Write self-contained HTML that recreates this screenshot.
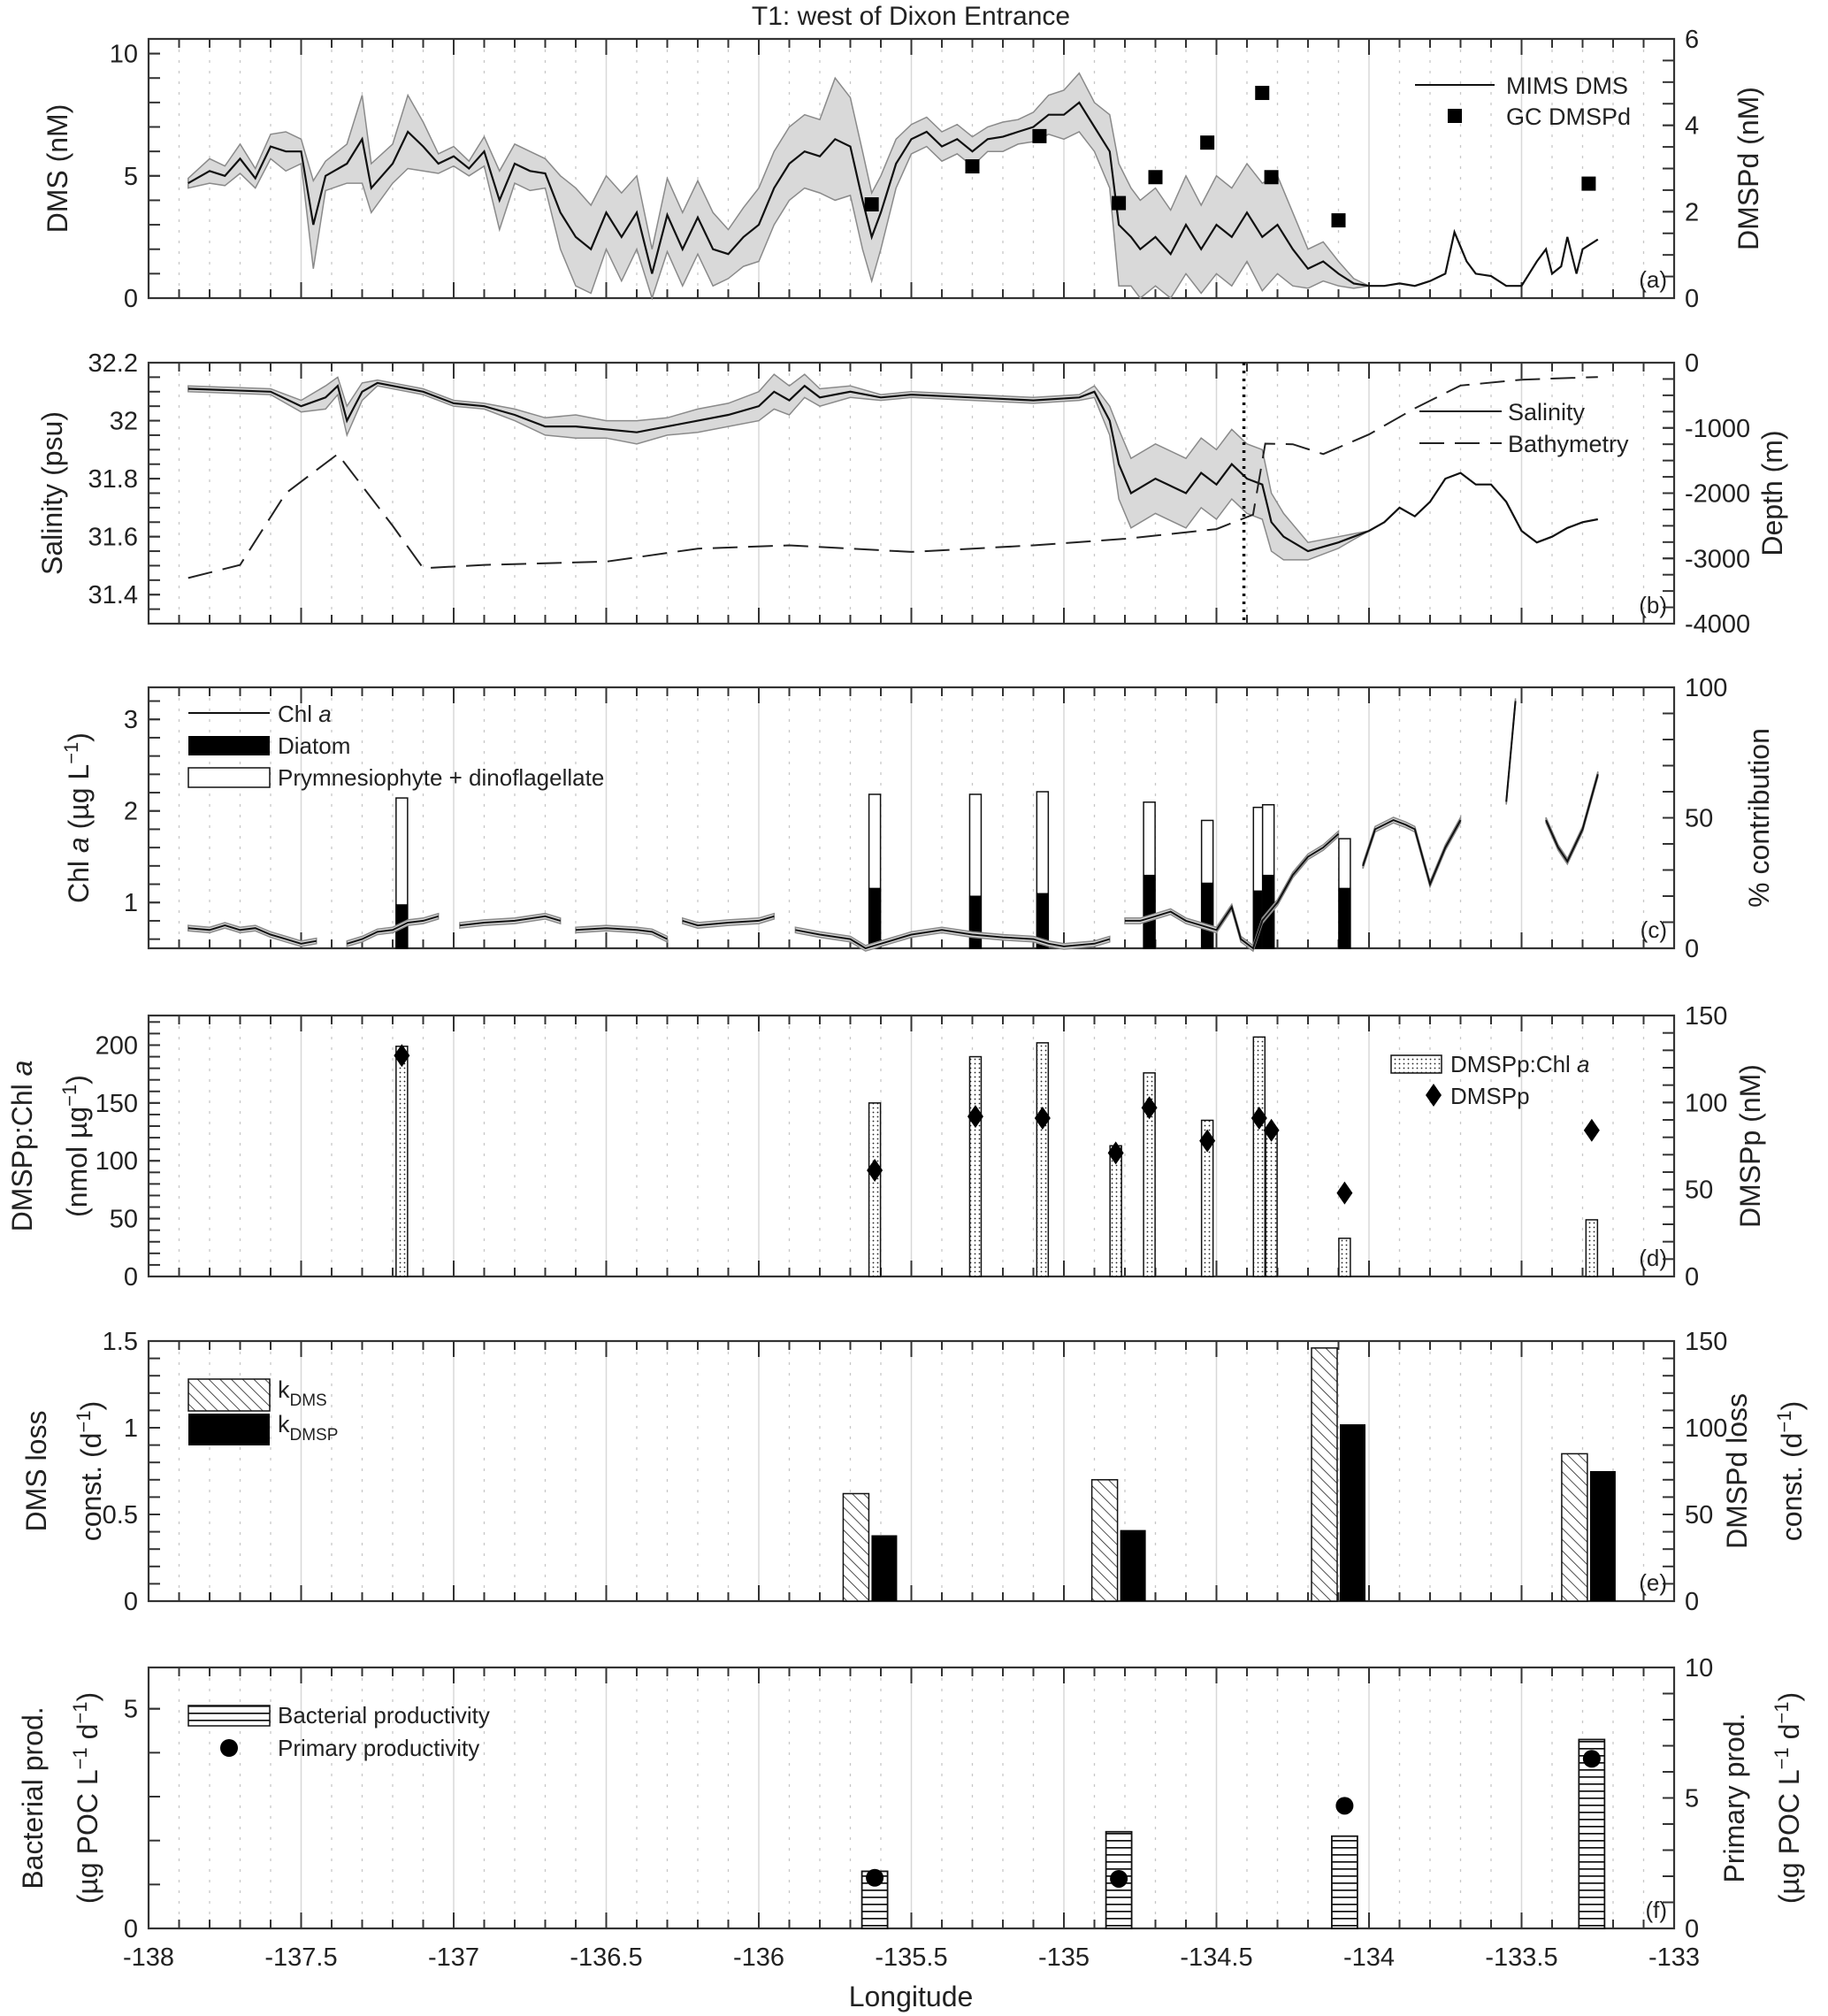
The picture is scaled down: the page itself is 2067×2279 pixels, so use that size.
<!DOCTYPE html>
<html><head><meta charset="utf-8"><title>T1: west of Dixon Entrance</title>
<style>
html,body{margin:0;padding:0;background:#fff;}
svg{display:block;font-family:"Liberation Sans",Arial,sans-serif;}
</style></head>
<body>
<svg id="fig" xmlns="http://www.w3.org/2000/svg" width="2067" height="2279" viewBox="0 0 2067 2279">
<defs>
<pattern id="dots" width="5" height="5" patternUnits="userSpaceOnUse"><rect width="5" height="5" fill="#fff"/><circle cx="2.5" cy="2.5" r="0.9" fill="#222"/></pattern>
<pattern id="diag" width="9" height="9" patternUnits="userSpaceOnUse" patternTransform="rotate(-45)"><rect width="9" height="9" fill="#fff"/><line x1="0" y1="0" x2="0" y2="9" stroke="#222" stroke-width="1.6"/></pattern>
<pattern id="horiz" width="10" height="8" patternUnits="userSpaceOnUse"><rect width="10" height="8" fill="#fff"/><line x1="0" y1="0.8" x2="10" y2="0.8" stroke="#111" stroke-width="1.8"/></pattern>
</defs>
<text x="1030" y="28" font-size="30" text-anchor="middle" fill="#222">T1: west of Dixon Entrance</text>
<text x="1030" y="2268" font-size="32" text-anchor="middle" fill="#222">Longitude</text>
</svg>
<script>
// ---- data ----
const dmsLon=[-137.87,-137.8,-137.75,-137.7,-137.65,-137.6,-137.55,-137.5,-137.46,-137.42,-137.35,-137.3,-137.27,-137.2,-137.15,-137.1,-137.05,-137.0,-136.95,-136.9,-136.85,-136.8,-136.75,-136.7,-136.65,-136.6,-136.55,-136.5,-136.45,-136.4,-136.35,-136.3,-136.25,-136.2,-136.15,-136.1,-136.05,-136.0,-135.95,-135.9,-135.85,-135.8,-135.75,-135.7,-135.66,-135.63,-135.6,-135.55,-135.5,-135.45,-135.4,-135.35,-135.3,-135.25,-135.2,-135.15,-135.1,-135.05,-135.0,-134.95,-134.9,-134.85,-134.82,-134.78,-134.75,-134.7,-134.65,-134.6,-134.55,-134.5,-134.45,-134.4,-134.35,-134.3,-134.25,-134.2,-134.15,-134.1,-134.05,-134.0,-133.95,-133.9,-133.85,-133.8,-133.75,-133.72,-133.68,-133.65,-133.6,-133.55,-133.5,-133.45,-133.42,-133.4,-133.37,-133.35,-133.32,-133.3,-133.25];
const dmsVal=[4.7,5.2,5.0,5.7,4.9,6.2,6.0,6.0,3.0,5.0,5.5,6.5,4.5,5.5,6.8,6.2,5.5,5.8,5.3,6.0,4.0,5.5,5.2,5.1,3.5,2.5,2.0,3.5,2.5,3.5,1.0,3.4,2.0,3.3,2.0,1.8,2.5,3.0,4.5,5.5,6.0,5.8,6.5,6.2,4.0,2.5,3.5,5.5,6.5,6.8,6.2,6.5,6.0,6.5,6.6,6.8,7.0,7.5,7.5,8.0,7.0,6.0,3.0,2.5,2.0,2.5,1.8,3.0,2.0,3.0,2.5,3.5,2.5,3.0,2.0,1.2,1.5,1.0,0.6,0.5,0.5,0.6,0.5,0.7,1.0,2.7,1.5,1.0,0.9,0.5,0.5,1.5,2.0,1.0,1.3,2.5,1.0,2.0,2.4];
const dmsSpread=[0.2,0.5,0.4,0.6,0.4,0.5,0.8,0.5,1.8,0.6,0.8,1.8,1.0,0.8,1.5,1.0,0.4,0.4,0.3,0.6,1.2,0.8,0.8,0.6,1.5,2.0,1.8,1.5,1.8,1.5,1.0,1.5,1.5,1.5,1.5,1.0,1.2,1.5,1.5,1.5,1.5,1.5,2.5,2.0,2.0,1.8,1.5,1.0,0.6,0.6,0.6,0.6,0.6,0.5,0.6,0.5,0.6,0.8,1.0,1.2,1.0,1.5,2.5,2.0,2.0,2.0,1.8,2.0,1.8,2.0,2.0,2.0,2.2,2.0,1.5,0.8,0.8,0.5,0.2,0,0,0,0,0,0,0,0,0,0,0,0,0,0,0,0,0,0,0,0];
const dmspdLon=[-135.63,-135.30,-135.08,-134.82,-134.70,-134.53,-134.35,-134.32,-134.10,-133.28];
const dmspdVal=[2.17,3.05,3.75,2.2,2.8,3.6,4.75,2.8,1.8,2.65];

const salLon=[-137.87,-137.6,-137.5,-137.42,-137.38,-137.35,-137.3,-137.25,-137.1,-137.0,-136.9,-136.8,-136.7,-136.6,-136.5,-136.4,-136.3,-136.2,-136.1,-136.0,-135.95,-135.9,-135.85,-135.8,-135.7,-135.6,-135.5,-135.3,-135.1,-134.95,-134.9,-134.85,-134.82,-134.78,-134.7,-134.6,-134.55,-134.5,-134.45,-134.4,-134.35,-134.32,-134.28,-134.2,-134.1,-134.05,-134.0,-133.95,-133.9,-133.85,-133.8,-133.75,-133.7,-133.65,-133.6,-133.55,-133.5,-133.45,-133.4,-133.35,-133.3,-133.25];
const salVal=[32.11,32.10,32.05,32.08,32.12,32.0,32.1,32.13,32.10,32.06,32.05,32.02,31.98,31.98,31.97,31.96,31.98,32.0,32.02,32.05,32.10,32.07,32.12,32.08,32.10,32.08,32.09,32.08,32.07,32.08,32.1,32.0,31.85,31.75,31.8,31.75,31.82,31.78,31.85,31.8,31.78,31.65,31.6,31.55,31.58,31.6,31.62,31.65,31.7,31.67,31.72,31.8,31.82,31.78,31.78,31.72,31.62,31.58,31.6,31.63,31.65,31.66];
const salSpread=[0.01,0.01,0.02,0.04,0.03,0.05,0.03,0.01,0.01,0.01,0.01,0.02,0.03,0.04,0.03,0.04,0.03,0.04,0.04,0.05,0.06,0.05,0.04,0.03,0.02,0.01,0.01,0.01,0.01,0.01,0.02,0.05,0.12,0.12,0.12,0.12,0.12,0.12,0.12,0.12,0.12,0.1,0.08,0.03,0.02,0.01,0,0,0,0,0,0,0,0,0,0,0,0,0,0,0,0];
const bathyLon=[-137.87,-137.7,-137.55,-137.38,-137.2,-137.1,-136.9,-136.5,-136.2,-135.9,-135.5,-135.1,-134.8,-134.5,-134.38,-134.34,-134.25,-134.15,-134.0,-133.85,-133.7,-133.5,-133.25];
const bathyVal=[-3300,-3100,-2000,-1400,-2500,-3150,-3100,-3050,-2850,-2800,-2900,-2800,-2700,-2550,-2330,-1240,-1250,-1400,-1100,-700,-350,-260,-220];
const transitionLon=-134.41;

const chlLon=[-137.87,-137.8,-137.75,-137.7,-137.65,-137.6,-137.55,-137.5,-137.45,-137.42,-137.35,-137.3,-137.25,-137.2,-137.15,-137.1,-137.05,-137.02,-136.98,-136.9,-136.8,-136.7,-136.65,-136.62,-136.6,-136.5,-136.4,-136.35,-136.3,-136.27,-136.25,-136.2,-136.1,-136.0,-135.95,-135.92,-135.88,-135.8,-135.7,-135.65,-135.6,-135.5,-135.4,-135.3,-135.2,-135.1,-135.05,-135.0,-134.9,-134.85,-134.82,-134.8,-134.75,-134.7,-134.65,-134.6,-134.55,-134.5,-134.45,-134.42,-134.38,-134.35,-134.3,-134.25,-134.2,-134.15,-134.1,-134.06,-134.02,-133.98,-133.92,-133.88,-133.85,-133.8,-133.75,-133.7,-133.6,-133.55,-133.52,-133.47,-133.42,-133.38,-133.35,-133.3,-133.25];
const chlVal=[0.72,0.7,0.75,0.7,0.72,0.65,0.6,0.55,0.58,null,0.55,0.6,0.68,0.7,0.78,0.8,0.85,null,0.75,0.78,0.8,0.85,0.8,null,0.7,0.72,0.7,0.68,0.6,null,0.8,0.75,0.78,0.8,0.85,null,0.7,0.65,0.6,0.5,0.55,0.65,0.7,0.65,0.62,0.6,0.55,0.52,0.55,0.6,null,0.8,0.8,0.85,0.9,0.8,0.75,0.7,0.95,0.6,0.5,0.8,1.0,1.3,1.5,1.6,1.75,null,1.4,1.8,1.9,1.85,1.8,1.2,1.6,1.9,null,2.1,3.2,null,1.9,1.6,1.45,1.8,2.4];
const pigLon=[-137.17,-135.62,-135.29,-135.07,-134.72,-134.53,-134.36,-134.33,-134.08];
const pigTotal=[57.6,59,59,60,56,49,54,55,42];
const pigDiatom=[16.7,23,20,21,28,25,22,28,23];

const ratioLon=[-137.17,-135.62,-135.29,-135.07,-134.83,-134.72,-134.53,-134.36,-134.32,-134.08,-133.27];
const ratioVal=[199,150,190,202,113,176,135,207,128,33,49];
const dmsppVal=[127,61,92,91,71,97,78,91,84,48,84];
const dmsppLon=[-137.17,-135.62,-135.29,-135.07,-134.83,-134.72,-134.53,-134.36,-134.32,-134.08,-133.27];

const lossLon=[-135.635,-134.82,-134.10,-133.28];
const kDMS=[0.62,0.70,1.46,0.85];
const kDMSP=[38,41,102,75];

const prodLon=[-135.62,-134.82,-134.08,-133.27];
const bactProd=[1.3,2.2,2.1,4.3];
const primProd=[1.94,1.9,4.7,6.5];

const lonTicks=[-138,-137.5,-137,-136.5,-136,-135.5,-135,-134.5,-134,-133.5,-133];
const lonTickLabels=["-138","-137.5","-137","-136.5","-136","-135.5","-135","-134.5","-134","-133.5","-133"];

// ---- layout ----
const NS="http://www.w3.org/2000/svg";
const svg=document.getElementById('fig');
const L=168,R=1893;
const P={a:[44,337],b:[410,705],c:[777,1072],d:[1148,1443],e:[1516,1810],f:[1885,2180]};
function xs(lon){return L+(lon+138)/5*(R-L);}
function yScale(p,min,max){const t=P[p][0],b=P[p][1];return v=>b-(v-min)/(max-min)*(b-t);}
function el(tag,attrs,parent){const e=document.createElementNS(NS,tag);for(const k in attrs)e.setAttribute(k,attrs[k]);(parent||svg).appendChild(e);return e;}
function txt(s,x,y,size,anchor,parent,rot){const t=el('text',{x:x,y:y,'font-size':size,'text-anchor':anchor||'start',fill:'#222'},parent);if(rot)t.setAttribute('transform','rotate(-90 '+x+' '+y+')');t.textContent=s;return t;}

function frame(p,leftTicks,leftMinor,lmin,lmax,rightTicks,rightMinor,rmin,rmax,lfmt,rfmt){
  const g=el('g',{});
  
  
  const t=P[p][0],b=P[p][1];
  for(let i=1;i<50;i++){
    const lon=-138+i*0.1;const x=xs(lon);
    if(i%5===0){const l=el('line',{x1:x,y1:t,x2:x,y2:b,stroke:'#d8d8d8','stroke-width':1.5},g);}
    else{const l=el('line',{x1:x,y1:t,x2:x,y2:b,stroke:'#c8c8c8','stroke-width':1.3,'stroke-dasharray':'3,9'},g);}
  }
  for(let i=1;i<50;i++){
    const x=xs(-138+i*0.1);const len=(i%5===0)?18:10;
    el('line',{x1:x,y1:b,x2:x,y2:b-len,stroke:'#333','stroke-width':2},g);
    el('line',{x1:x,y1:t,x2:x,y2:t+len,stroke:'#333','stroke-width':2},g);
  }
  const yl=yScale(p,lmin,lmax),yr=yScale(p,rmin,rmax);
  leftMinor.forEach(v=>el('line',{x1:L,y1:yl(v),x2:L+13,y2:yl(v),stroke:'#333','stroke-width':2},g));
  leftTicks.forEach(v=>{el('line',{x1:L,y1:yl(v),x2:L+13,y2:yl(v),stroke:'#333','stroke-width':2},g);
    const tl=txt(lfmt?lfmt(v):String(v),L-12,yl(v)+10,29,'end',g);});
  rightMinor.forEach(v=>el('line',{x1:R,y1:yr(v),x2:R-13,y2:yr(v),stroke:'#333','stroke-width':2},g));
  rightTicks.forEach(v=>{el('line',{x1:R,y1:yr(v),x2:R-13,y2:yr(v),stroke:'#333','stroke-width':2},g);
    const tr=txt(rfmt?rfmt(v):String(v),R+12,yr(v)+10,29,'start',g);});
  el('rect',{x:L,y:t,width:R-L,height:b-t,fill:'none',stroke:'#333','stroke-width':2.2},g);
  const pl=txt('('+p+')',R-8,b-12,26,'end',g);
  
  return {yl,yr};
}
function range(a,b,s){const r=[];for(let v=a;v<=b+1e-9;v+=s)r.push(Math.round(v*1000)/1000);return r;}
function pathFrom(lons,vals,y){let d='',pen=false;for(let i=0;i<lons.length;i++){if(vals[i]===null){pen=false;continue;}d+=(pen?'L':'M')+xs(lons[i]).toFixed(1)+','+y(vals[i]).toFixed(1);pen=true;}return d;}
function bandSegments(lons,vals,spr,y,parent,name){
  let seg=[];
  const flush=()=>{if(seg.length>1){let d='M';seg.forEach((i,k)=>{d+=(k?'L':'')+xs(lons[i]).toFixed(1)+','+y(vals[i]+spr[i]).toFixed(1);});
    for(let k=seg.length-1;k>=0;k--){const i=seg[k];d+='L'+xs(lons[i]).toFixed(1)+','+y(vals[i]-spr[i]).toFixed(1);}d+='Z';
    const p=el('path',{d:d,fill:'#d9d9d9',stroke:'#8a8a8a','stroke-width':1.5},parent);}seg=[];};
  for(let i=0;i<lons.length;i++){if(vals[i]===null||spr[i]===0){if(seg.length&&vals[i]!==null)seg.push(i);flush();continue;}seg.push(i);}flush();
}
function label(lines,x,p,size){const cy=(P[p][0]+P[p][1])/2;const g=el('g',{});
  lines.forEach((ln,i)=>{const xx=x+i*62;const t=el('text',{x:xx,y:cy,'font-size':size||32,'text-anchor':'middle',fill:'#222',transform:'rotate(-90 '+xx+' '+cy+')'},g);t.innerHTML=ln;});return g;}

// ---- Panel a ----
(function(){
 const ax=frame('a',[0,5,10],range(0,10,1),0,10.6,[0,2,4,6],range(0,6,0.5),0,6);
 const g=el('g',{});
 bandSegments(dmsLon,dmsVal,dmsSpread,ax.yl,g,'dms-uncertainty-band');
 const ln=el('path',{d:pathFrom(dmsLon,dmsVal,ax.yl),fill:'none',stroke:'#111','stroke-width':2.2},g);
 
 dmspdLon.forEach((lon,i)=>{const r=el('rect',{x:xs(lon)-8,y:ax.yr(dmspdVal[i])-8,width:16,height:16,fill:'#000'});
  });
 const lg=el('g',{});
 el('line',{x1:1600,y1:96,x2:1690,y2:96,stroke:'#111','stroke-width':2},lg);txt('MIMS DMS',1703,106,27,'start',lg);
 el('rect',{x:1637,y:123,width:16,height:16,fill:'#000'},lg);txt('GC DMSPd',1703,141,27,'start',lg);
 const l1=label(['DMS (nM)'],76,'a');
 const l2=label(['DMSPd (nM)'],1988,'a');
})();

// ---- Panel b ----
(function(){
 const ax=frame('b',[31.4,31.6,31.8,32,32.2],range(31.3,32.2,0.05),31.3,32.2,[-4000,-3000,-2000,-1000,0],range(-4000,0,250),-4000,0,v=>String(v),v=>String(v));
 const g=el('g',{});
 bandSegments(salLon,salVal,salSpread,ax.yl,g,'salinity-uncertainty-band');
 const ln=el('path',{d:pathFrom(salLon,salVal,ax.yl),fill:'none',stroke:'#111','stroke-width':2.2},g);
 
 const bt=el('path',{d:pathFrom(bathyLon,bathyVal,ax.yr),fill:'none',stroke:'#222','stroke-width':2,'stroke-dasharray':'28,12'});
 
 const vl=el('line',{x1:xs(transitionLon),y1:P.b[0],x2:xs(transitionLon),y2:P.b[1],stroke:'#000','stroke-width':3.5,'stroke-dasharray':'3,6'});
 
 const lg=el('g',{});
 el('line',{x1:1605,y1:465,x2:1698,y2:465,stroke:'#111','stroke-width':2},lg);txt('Salinity',1705,475,27,'start',lg);
 el('line',{x1:1605,y1:501,x2:1698,y2:501,stroke:'#222','stroke-width':2,'stroke-dasharray':'28,12'},lg);txt('Bathymetry',1705,511,27,'start',lg);
 const l1=label(['Salinity (psu)'],70,'b');
 const l2=label(['Depth (m)'],2015,'b');
})();

// ---- Panel c ----
(function(){
 const ax=frame('c',[1,2,3],range(0.6,3.2,0.2),0.5,3.35,[0,50,100],range(0,100,10),0,100);
 const bw=13;
 pigLon.forEach((lon,i)=>{const x=xs(lon)-bw/2;
  const w=el('rect',{x:x,y:ax.yr(pigTotal[i]),width:bw,height:ax.yr(0)-ax.yr(pigTotal[i]),fill:'#fff',stroke:'#111','stroke-width':1.5});
  
  const d=el('rect',{x:x,y:ax.yr(pigDiatom[i]),width:bw,height:ax.yr(0)-ax.yr(pigDiatom[i]),fill:'#000',stroke:'#000','stroke-width':1});
  });
 const g=el('g',{});
 const spr=chlVal.map(v=>v===null?0:0.03);
 bandSegments(chlLon,chlVal,spr,ax.yl,g,'chl-uncertainty-band');
 const ln=el('path',{d:pathFrom(chlLon,chlVal,ax.yl),fill:'none',stroke:'#111','stroke-width':2},g);
 
 const lg=el('g',{});
 el('line',{x1:213,y1:806,x2:305,y2:806,stroke:'#111','stroke-width':2},lg);
 const t1=txt('',314,816,26,'start',lg);t1.innerHTML='Chl <tspan font-style="italic">a</tspan>';
 el('rect',{x:213,y:832,width:92,height:22,fill:'#000'},lg);txt('Diatom',314,852,26,'start',lg);
 el('rect',{x:213,y:868,width:92,height:22,fill:'#fff',stroke:'#111','stroke-width':1.5},lg);txt('Prymnesiophyte + dinoflagellate',314,888,26,'start',lg);
 const l1=label(['Chl <tspan font-style="italic">a</tspan> (µg L<tspan dy="-12" font-size="22">−1</tspan><tspan dy="12">)</tspan>'],100,'c');
 const l2=label(['% contribution'],2000,'c');
})();

// ---- Panel d ----
(function(){
 const ax=frame('d',[0,50,100,150,200],range(0,220,10),0,225.6,[0,50,100,150],range(0,150,10),0,150);
 const bw=13;
 ratioLon.forEach((lon,i)=>{const r=el('rect',{x:xs(lon)-bw/2,y:ax.yl(ratioVal[i]),width:bw,height:ax.yl(0)-ax.yl(ratioVal[i]),fill:'url(#dots)',stroke:'#111','stroke-width':1.5});
  });
 dmsppLon.forEach((lon,i)=>{const x=xs(lon),y=ax.yr(dmsppVal[i]);
  const p=el('polygon',{points:`${x},${y-13} ${x+9},${y} ${x},${y+13} ${x-9},${y}`,fill:'#000'});
  });
 const lg=el('g',{});
 el('rect',{x:1573,y:1193,width:57,height:20,fill:'url(#dots)',stroke:'#111','stroke-width':1.5},lg);
 const t1=txt('',1640,1212,26,'start',lg);t1.innerHTML='DMSPp:Chl <tspan font-style="italic">a</tspan>';
 el('polygon',{points:'1621,1225 1630,1238 1621,1251 1612,1238',fill:'#000'},lg);txt('DMSPp',1640,1248,26,'start',lg);
 const l1=label(['DMSPp:Chl <tspan font-style="italic">a</tspan>','(nmol µg<tspan dy="-12" font-size="22">−1</tspan><tspan dy="12">)</tspan>'],36,'d');
 const l2=label(['DMSPp (nM)'],1990,'d');
})();

// ---- Panel e ----
(function(){
 const ax=frame('e',[0,0.5,1,1.5],range(0,1.5,0.1),0,1.5,[0,50,100,150],range(0,150,10),0,150);
 const bw=29,off=16;
 lossLon.forEach((lon,i)=>{const x=xs(lon);
  const a=el('rect',{x:x-off-bw/2,y:ax.yl(kDMS[i]),width:bw,height:ax.yl(0)-ax.yl(kDMS[i]),fill:'url(#diag)',stroke:'#111','stroke-width':1.5});
  
  const b=el('rect',{x:x+off-bw/2,y:ax.yr(kDMSP[i]),width:bw,height:ax.yr(0)-ax.yr(kDMSP[i]),fill:'#000'});
  });
 const lg=el('g',{});
 el('rect',{x:213,y:1559,width:92,height:36,fill:'url(#diag)',stroke:'#111','stroke-width':1.5},lg);
 const t1=txt('',314,1580,27,'start',lg);t1.innerHTML='k<tspan dy="9" font-size="19">DMS</tspan>';
 el('rect',{x:213,y:1598,width:92,height:36,fill:'#000'},lg);
 const t2=txt('',314,1619,27,'start',lg);t2.innerHTML='k<tspan dy="9" font-size="19">DMSP</tspan>';
 const l1=label(['DMS loss','const. (d<tspan dy="-12" font-size="22">−1</tspan><tspan dy="12">)</tspan>'],52,'e');
 const l2=label(['DMSPd loss','const. (d<tspan dy="-12" font-size="22">−1</tspan><tspan dy="12">)</tspan>'],1975,'e');
})();

// ---- Panel f ----
(function(){
 const ax=frame('f',[0,5],range(0,5,1),0,5.94,[0,5,10],range(0,10,1),0,10);
 const bw=29;
 prodLon.forEach((lon,i)=>{const x=xs(lon);
  const b=el('rect',{x:x-bw/2,y:ax.yl(bactProd[i]),width:bw,height:ax.yl(0)-ax.yl(bactProd[i]),fill:'url(#horiz)',stroke:'#111','stroke-width':1.8});
  
  const c=el('circle',{cx:x,cy:ax.yr(primProd[i]),r:10,fill:'#000'});
  });
 lonTicks.forEach((lon,i)=>{const t=txt(lonTickLabels[i],xs(lon),2222,29,'middle');
  });
 const lg=el('g',{});
 el('rect',{x:213,y:1928,width:92,height:23,fill:'url(#horiz)',stroke:'#111','stroke-width':1.5},lg);txt('Bacterial productivity',314,1948,26,'start',lg);
 el('circle',{cx:259,cy:1976,r:10,fill:'#000'},lg);txt('Primary productivity',314,1985,26,'start',lg);
 const l1=label(['Bacterial prod.','(µg POC L<tspan dy="-12" font-size="22">−1</tspan><tspan dy="12"> d</tspan><tspan dy="-12" font-size="22">−1</tspan><tspan dy="12">)</tspan>'],48,'f');
 const l2=label(['Primary prod.','(µg POC L<tspan dy="-12" font-size="22">−1</tspan><tspan dy="12"> d</tspan><tspan dy="-12" font-size="22">−1</tspan><tspan dy="12">)</tspan>'],1972,'f');
})();
</script>
</body></html>
